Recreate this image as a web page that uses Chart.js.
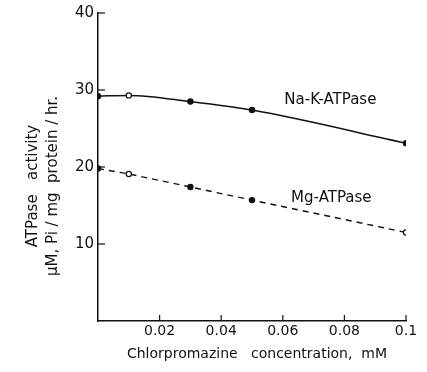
<!DOCTYPE html>
<html><head><meta charset="utf-8">
<script src="https://cdn.jsdelivr.net/npm/chart.js@4.4.0/dist/chart.umd.min.js"></script>
<style>html,body{margin:0;padding:0;background:#fff;}#c{display:block;}</style>
</head><body>
<canvas id="c" width="427" height="372"></canvas>
<script>
const concentrations = [0, 0.01, 0.03, 0.05, 0.1];
const naKValues = [29.2, 29.3, 28.5, 27.4, 23.1];
const mgValues = [19.8, 19.1, 17.4, 15.7, 11.5];
const naKFilled = [true, false, true, true, true];
const mgFilled = [true, false, true, true, false];
const xTicks = [0.02, 0.04, 0.06, 0.08, 0.1];
const xTickLabels = ['0.02', '0.04', '0.06', '0.08', '0.1'];
const yTicks = [10, 20, 30, 40];
const yTickLabels = ['10', '20', '30', '40'];
const seriesNames = ['Na-K-ATPase', 'Mg-ATPase'];
const xTitle = 'Chlorpromazine   concentration,  mM';
const yTitle = ['ATPase   activity', 'μM, Pi / mg  protein / hr.'];

const FONT = 'DejaVu Sans';
const ink = '#111';

const pts = (vals) => concentrations.map((x, i) => ({x, y: vals[i]}));

const decorations = {
  id: 'decorations',
  afterDraw(chart) {
    const ctx = chart.ctx, xs = chart.scales.x, ys = chart.scales.y;
    ctx.save();
    ctx.strokeStyle = ink; ctx.lineWidth = 1.2;
    xTicks.forEach(v => {
      const px = xs.getPixelForValue(v);
      ctx.beginPath(); ctx.moveTo(px, ys.bottom); ctx.lineTo(px, ys.bottom - 6); ctx.stroke();
    });
    yTicks.forEach(v => {
      const py = ys.getPixelForValue(v);
      ctx.beginPath(); ctx.moveTo(xs.left, py); ctx.lineTo(xs.left + 7, py); ctx.stroke();
    });
    ctx.fillStyle = ink;
    ctx.font = '15px "' + FONT + '"';
    ctx.textBaseline = 'middle'; ctx.textAlign = 'left';
    ctx.fillText(seriesNames[0], xs.getPixelForValue(0.0605), ys.getPixelForValue(28.7));
    ctx.fillText(seriesNames[1], xs.getPixelForValue(0.0627), ys.getPixelForValue(15.9));
    // x axis title
    ctx.textAlign = 'center';
    ctx.font = '14px "' + FONT + '"';
    ctx.fillText(xTitle, 257, 354);
    // y axis title
    ctx.font = '15px "' + FONT + '"';
    ctx.translate(0, 0);
    [[33, yTitle[0]], [53, yTitle[1]]].forEach(([x, t]) => {
      ctx.save();
      ctx.translate(x, 186);
      ctx.rotate(-Math.PI / 2);
      ctx.fillText(t, 0, 0);
      ctx.restore();
    });
    ctx.restore();
  }
};

new Chart(document.getElementById('c'), {
  type: 'scatter',
  data: {
    datasets: [
      {
        label: seriesNames[0], data: pts(naKValues), showLine: true,
        borderColor: ink, borderWidth: 1.5, tension: 0.4, cubicInterpolationMode: 'monotone',
        pointRadius: 2.6, pointBorderWidth: 1.2, pointBorderColor: ink,
        pointBackgroundColor: naKFilled.map(f => f ? ink : '#fff')
      },
      {
        label: seriesNames[1], data: pts(mgValues), showLine: true,
        borderColor: ink, borderWidth: 1.4, borderDash: [6, 5], tension: 0,
        pointRadius: 2.6, pointBorderWidth: 1.2, pointBorderColor: ink,
        pointBackgroundColor: mgFilled.map(f => f ? ink : '#fff')
      }
    ]
  },
  options: {
    responsive: false, animation: false,
    layout: {padding: {top: 11, right: 21, left: 0, bottom: 0}},
    plugins: {legend: {display: false}, tooltip: {enabled: false}},
    scales: {
      x: {
        type: 'linear', min: 0, max: 0.1,
        afterBuildTicks: s => { s.ticks = xTicks.map(v => ({value: v})); },
        afterFit: s => { s.height = 51; },
        grid: {display: true, drawOnChartArea: false, drawTicks: false},
        border: {display: true, color: ink, width: 1.5},
        ticks: {
          color: ink, font: {family: FONT, size: 14}, padding: 2,
          callback: (v) => { const i = xTicks.findIndex(t => Math.abs(t - v) < 1e-9); return i >= 0 ? xTickLabels[i] : ''; }
        },
        title: {display: false}
      },
      y: {
        type: 'linear', min: 0, max: 40,
        afterBuildTicks: s => { s.ticks = yTicks.map(v => ({value: v})); },
        afterFit: s => { s.width = 98; },
        grid: {display: true, drawOnChartArea: false, drawTicks: false},
        border: {display: true, color: ink, width: 1.5},
        ticks: {
          color: ink, font: {family: FONT, size: 15}, padding: 4,
          callback: (v) => { const i = yTicks.indexOf(v); return i >= 0 ? yTickLabels[i] : ''; }
        },
        title: {display: false}
      }
    }
  },
  plugins: [decorations]
});
</script>
</body></html>
